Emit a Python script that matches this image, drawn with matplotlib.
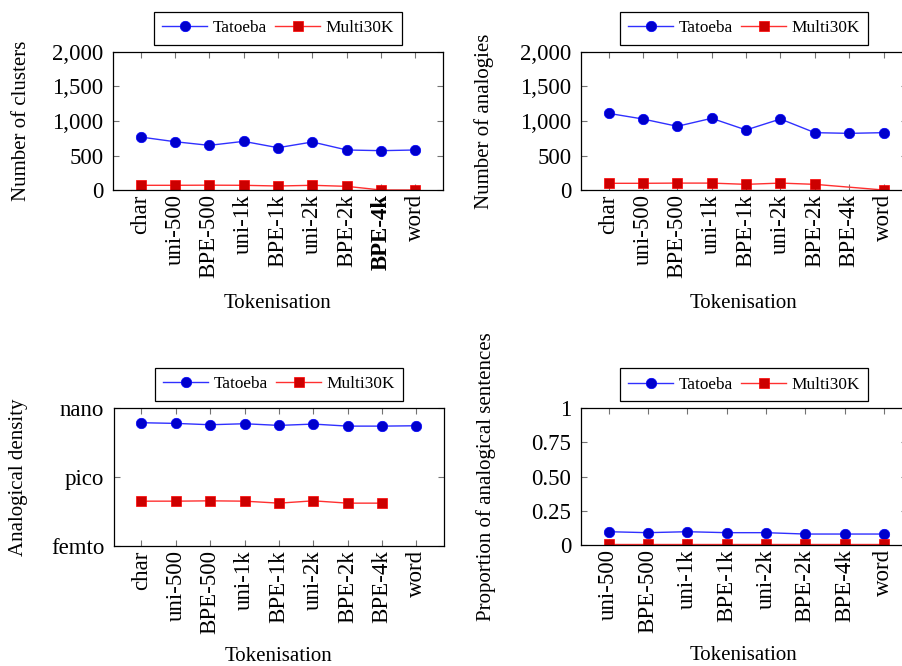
import matplotlib
matplotlib.use("Agg")
import matplotlib.pyplot as plt

plt.rcParams['font.family'] = ['Liberation Serif', 'DejaVu Serif']
plt.rcParams['font.size'] = 15

# data
tokens = ['char', 'uni-500', 'BPE-500', 'uni-1k', 'BPE-1k', 'uni-2k', 'BPE-2k', 'BPE-4k', 'word']
clusters_tatoeba = [768, 700, 647, 705, 613, 696, 580, 570, 580]
clusters_multi = [68, 68, 70, 68, 58, 68, 53, 0, 0]
analogies_tatoeba = [1111, 1029, 923, 1039, 870, 1029, 831, 821, 831]
analogies_multi = [97, 97, 100, 100, 82, 100, 82, None, 0]
density_tatoeba = [2.29e-10, 2.14e-10, 1.87e-10, 2.07e-10, 1.75e-10, 2.0e-10, 1.63e-10, 1.63e-10, 1.69e-10]
density_multi = [8.9e-14, 8.9e-14, 9.2e-14, 8.9e-14, 7.3e-14, 9.2e-14, 7.3e-14, 7.3e-14, None]
prop_tokens = ['uni-500', 'BPE-500', 'uni-1k', 'BPE-1k', 'uni-2k', 'BPE-2k', 'BPE-4k', 'word']
prop_tatoeba = [0.097, 0.090, 0.097, 0.090, 0.090, 0.080, 0.080, 0.080]
prop_multi = [0.01, 0.01, 0.01, 0.01, 0.01, 0.01, 0.01, 0.01]

count_ticks = [0, 500, 1000, 1500, 2000]
count_labels = ['0', '500', '1,000', '1,500', '2,000']
density_ticks = [1e-15, 1e-12, 1e-9]
density_labels = ['femto', 'pico', 'nano']
prop_ticks = [0, 0.25, 0.5, 0.75, 1]
prop_labels = ['0', '0.25', '0.50', '0.75', '1']

W, H = 902, 666
fig = plt.figure(figsize=(W / 100, H / 100), dpi=100)


def px_axes(left, right, top, bottom):
    return fig.add_axes([left / W, 1 - bottom / H, (right - left) / W, (bottom - top) / H])


def series(ax, labels, ys, **kw):
    xs = [i for i, y in enumerate(ys) if y is not None]
    vs = [y for y in ys if y is not None]
    ax.plot(xs, vs, **kw)


blue = dict(color='#3030ff', lw=1.0, marker='o', ms=7.5, mfc='#0000cc', mec='#0000ff', mew=0.5, label='Tatoeba')
red = dict(color='#ff3030', lw=1.0, marker='s', ms=7.5, mfc='#cc0000', mec='#ff0000', mew=0.5, label='Multi30K')


def style(ax, labels, xlim, ylab, ylab_x, xlab_y):
    ax.set_xlim(*xlim)
    ax.set_xticks(range(len(labels)))
    ax.set_xticklabels(labels, rotation=90)
    ax.tick_params(direction='in', length=4.5, width=0.8, color='0.45', top=True, right=True,
                   labelsize=16.5)
    ax.tick_params(axis='x', pad=3)
    ax.tick_params(axis='y', pad=7)
    ax.tick_params(axis='both', which='minor', length=0)
    for s in ax.spines.values():
        s.set_linewidth(0.9)
    ax.set_xlabel('Tokenisation')
    ax.xaxis.set_label_coords(0.5, xlab_y)
    ax.set_ylabel(ylab)
    ax.yaxis.set_label_coords(ylab_x, 0.5)
    ax.legend(loc='lower center', bbox_to_anchor=(0.5, 1.05), borderaxespad=0, ncol=2, fontsize=12.4,
              frameon=True, fancybox=False, edgecolor='black', framealpha=1,
              handlelength=2.6, handletextpad=0.3, columnspacing=0.5, borderpad=0.5)
    ax.get_legend().get_frame().set_linewidth(0.9)


# top left: clusters
ax1 = px_axes(113, 443, 52, 190)
series(ax1, tokens, clusters_tatoeba, **blue)
series(ax1, tokens, clusters_multi, **red)
ax1.set_ylim(0, 2000)
ax1.set_yticks(count_ticks)
ax1.set_yticklabels(count_labels)
style(ax1, tokens, (-0.8, 8.8), 'Number of clusters', -0.248, -0.755)
ax1.get_xticklabels()[tokens.index('BPE-4k')].set_fontweight('bold')

# top right: analogies
ax2 = px_axes(581, 907, 52, 190)
series(ax2, tokens, analogies_tatoeba, **blue)
series(ax2, tokens, analogies_multi, **red)
ax2.set_ylim(0, 2000)
ax2.set_yticks(count_ticks)
ax2.set_yticklabels(count_labels)
style(ax2, tokens, (-0.8, 8.68), 'Number of analogies', -0.267, -0.755)

# bottom left: density (log)
ax3 = px_axes(114, 444, 408, 546)
series(ax3, tokens, density_tatoeba, **blue)
series(ax3, tokens, density_multi, **red)
ax3.set_yscale('log')
ax3.set_ylim(1e-15, 1e-9)
ax3.set_yticks(density_ticks)
ax3.set_yticklabels(density_labels)
ax3.minorticks_off()
style(ax3, tokens, (-0.8, 8.8), 'Analogical density', -0.261, -0.735)

# bottom right: proportion
ax4 = px_axes(581, 907, 408, 545)
series(ax4, prop_tokens, prop_tatoeba, **blue)
series(ax4, prop_tokens, prop_multi, **red)
ax4.set_ylim(0, 1)
ax4.set_yticks(prop_ticks)
ax4.set_yticklabels(prop_labels)
style(ax4, prop_tokens, (-0.7, 7.585), 'Proportion of analogical sentences', -0.261, -0.74)

fig.savefig('out.png', dpi=100)
